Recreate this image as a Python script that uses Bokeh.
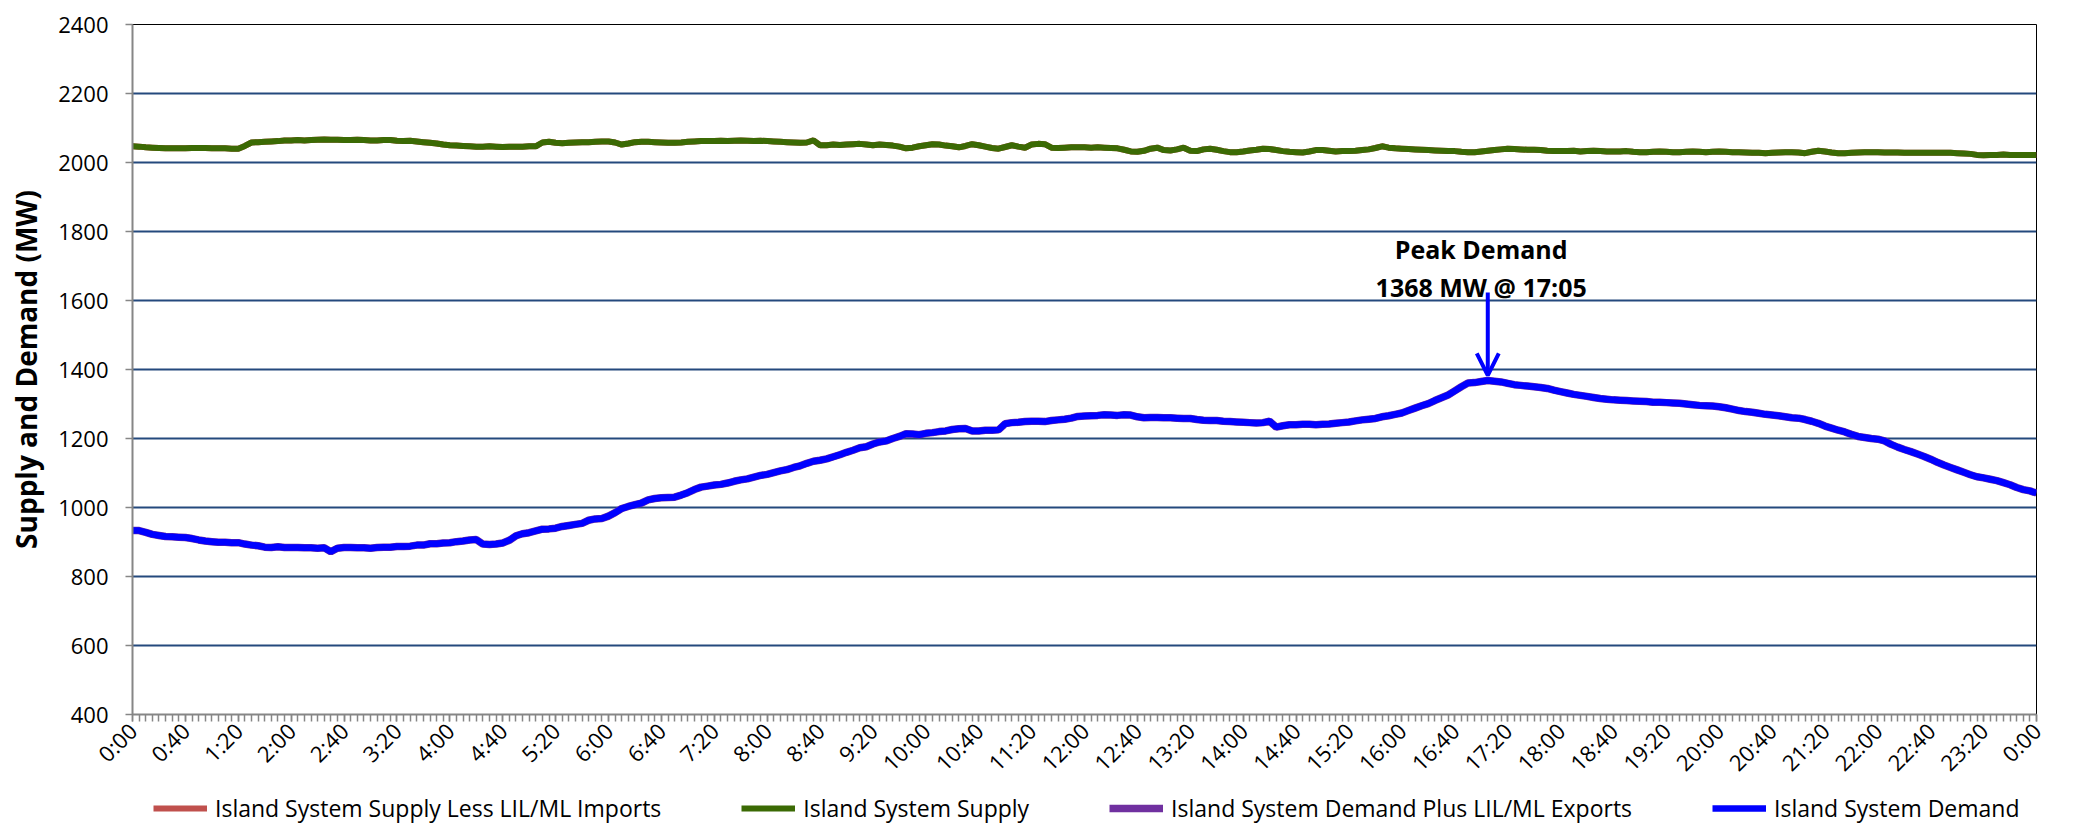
import math
from bokeh.plotting import figure
from bokeh.layouts import column
from bokeh.models import (Range1d, FixedTicker, Legend, LegendItem, Arrow, OpenHead,
                          ColumnDataSource)
from bokeh.core.properties import value
from bokeh.embed import file_html
from bokeh.resources import INLINE

# ---------------- data (5-minute intervals, 0:00 .. 24:00) ----------------
MINUTES = list(range(0, 1441, 5))

ISLAND_SUPPLY = [
    2047, 2046, 2044, 2043, 2042, 2041, 2041, 2041, 2041, 2042, 2042, 2042,
    2041, 2041, 2041, 2040, 2040, 2048, 2058, 2059, 2060, 2061, 2062, 2064,
    2064, 2065, 2064, 2065, 2066, 2067, 2066, 2066, 2065, 2065, 2066, 2065,
    2064, 2064, 2065, 2065, 2063, 2062, 2063, 2061, 2059, 2057, 2055, 2052,
    2050, 2049, 2048, 2047, 2046, 2046, 2047, 2046, 2045, 2046, 2046, 2046,
    2047, 2047, 2058, 2060, 2057, 2056, 2057, 2058, 2059, 2059, 2060, 2061,
    2061, 2058, 2052, 2055, 2059, 2060, 2060, 2059, 2058, 2057, 2057, 2058,
    2060, 2061, 2062, 2062, 2062, 2063, 2062, 2063, 2064, 2063, 2062, 2063,
    2062, 2061, 2060, 2059, 2058, 2057, 2058, 2064, 2050, 2050, 2052, 2051,
    2052, 2053, 2054, 2052, 2050, 2052, 2051, 2049, 2046, 2041, 2043, 2047,
    2050, 2053, 2052, 2049, 2047, 2044, 2048, 2053, 2050, 2046, 2042, 2040,
    2045, 2050, 2046, 2043, 2052, 2054, 2053, 2043, 2042, 2043, 2044, 2044,
    2044, 2043, 2044, 2043, 2042, 2041, 2037, 2032, 2031, 2034, 2040, 2043,
    2036, 2035, 2038, 2043, 2034, 2033, 2038, 2040, 2037, 2033, 2030, 2030,
    2032, 2035, 2037, 2040, 2039, 2036, 2033, 2031, 2030, 2029, 2032, 2036,
    2036, 2034, 2032, 2033, 2033, 2034, 2036, 2038, 2042, 2047, 2043, 2041,
    2040, 2039, 2038, 2037, 2036, 2035, 2034, 2033, 2033, 2031, 2030, 2030,
    2032, 2034, 2036, 2038, 2040, 2039, 2038, 2037, 2037, 2036, 2034, 2033,
    2033, 2033, 2034, 2032, 2033, 2034, 2033, 2032, 2032, 2032, 2033, 2031,
    2030, 2030, 2031, 2032, 2031, 2030, 2030, 2031, 2032, 2031, 2030, 2031,
    2032, 2031, 2030, 2030, 2029, 2028, 2028, 2027, 2028, 2029, 2030, 2030,
    2029, 2027, 2031, 2034, 2032, 2029, 2027, 2027, 2028, 2029, 2030, 2030,
    2030, 2029, 2029, 2029, 2028, 2028, 2028, 2028, 2028, 2028, 2028, 2028,
    2027, 2026, 2025, 2022, 2021, 2022, 2022, 2023, 2022, 2022, 2022, 2022,
    2022,
]

# No LIL/ML imports on this day: identical to the island supply
SUPPLY_LESS_IMPORTS = list(ISLAND_SUPPLY)

ISLAND_DEMAND = [
    933, 933, 928, 922, 919, 916, 915, 914, 913, 910, 906, 903,
    901, 899, 899, 898, 898, 894, 891, 889, 885, 884, 886, 884,
    884, 884, 883, 883, 882, 883, 872, 882, 884, 884, 883, 883,
    882, 884, 885, 885, 887, 887, 888, 891, 891, 895, 895, 897,
    898, 901, 903, 906, 907, 894, 893, 894, 897, 905, 918, 924,
    927, 932, 937, 938, 940, 945, 948, 951, 954, 963, 967, 968,
    975, 985, 997, 1003, 1008, 1013, 1022, 1026, 1028, 1029, 1030, 1036,
    1043, 1052, 1059, 1062, 1065, 1067, 1071, 1076, 1080, 1083, 1088, 1093,
    1096, 1101, 1106, 1110, 1116, 1121, 1128, 1134, 1137, 1141, 1147, 1153,
    1160, 1166, 1173, 1176, 1184, 1190, 1193, 1200, 1206, 1214, 1213, 1211,
    1215, 1217, 1220, 1222, 1226, 1228, 1229, 1222, 1222, 1224, 1224, 1225,
    1243, 1246, 1247, 1249, 1250, 1250, 1249, 1252, 1254, 1256, 1259, 1264,
    1265, 1266, 1267, 1269, 1268, 1267, 1269, 1268, 1263, 1260, 1261, 1261,
    1260, 1260, 1259, 1258, 1258, 1255, 1253, 1252, 1252, 1250, 1249, 1248,
    1247, 1246, 1245, 1246, 1250, 1233, 1237, 1240, 1240, 1241, 1241, 1240,
    1241, 1242, 1244, 1246, 1248, 1251, 1254, 1256, 1258, 1263, 1266, 1270,
    1274, 1281, 1288, 1295, 1301, 1310, 1318, 1326, 1338, 1350, 1361, 1362,
    1365, 1368, 1366, 1364, 1360, 1356, 1354, 1352, 1350, 1348, 1345, 1340,
    1336, 1332, 1328, 1325, 1322, 1319, 1316, 1314, 1312, 1311, 1310, 1309,
    1308, 1307, 1305, 1305, 1304, 1303, 1302, 1300, 1298, 1296, 1295, 1294,
    1292, 1289, 1285, 1281, 1278, 1276, 1273, 1270, 1268, 1266, 1263, 1260,
    1259, 1255, 1250, 1244, 1236, 1230, 1224, 1219, 1212, 1206, 1203, 1200,
    1198, 1193, 1183, 1175, 1168, 1162, 1155, 1148, 1140, 1131, 1123, 1116,
    1109, 1102, 1095, 1089, 1086, 1082, 1078, 1072, 1066, 1058, 1052, 1048,
    1042,
]

# No LIL/ML exports on this day: identical to the island demand
DEMAND_PLUS_EXPORTS = list(ISLAND_DEMAND)

SERIES_NAMES = [
    "Island System Supply Less LIL/ML Imports",
    "Island System Supply",
    "Island System Demand Plus LIL/ML Exports",
    "Island System Demand",
]
SERIES_COLORS = ["#C0504D", "#3B6A04", "#7030A0", "#0000FF"]
SERIES_WIDTHS = [6, 6, 7.5, 6.5]

PEAK_MINUTE = 17 * 60 + 5
PEAK_MW = 1368
PEAK_LABEL_1 = "Peak Demand"
PEAK_LABEL_2 = "1368 MW @ 17:05"

TICK_MINUTES = list(range(0, 1441, 40))
TICK_LABELS = ["%d:%02d" % ((m // 60) % 24, m % 60) for m in TICK_MINUTES]
MINOR_TICKS = list(range(0, 1441, 5))
Y_TICKS = list(range(400, 2401, 200))

FONT = "Open Sans"
W = 2080

# ---------------- main figure ----------------
p = figure(width=W, height=792, output_backend="svg", toolbar_location=None,
           x_range=Range1d(0, 1440), y_range=Range1d(400, 2400),
           min_border_left=132, min_border_right=44, min_border_top=24,
           min_border_bottom=78, background_fill_color="white",
           border_fill_color="white")

p.outline_line_color = "black"
p.outline_line_width = 1

p.xaxis.ticker = FixedTicker(ticks=TICK_MINUTES, minor_ticks=MINOR_TICKS)
p.xaxis.major_label_overrides = {m: lab for m, lab in zip(TICK_MINUTES, TICK_LABELS)}
p.xaxis.major_label_orientation = math.pi / 4
p.xaxis.major_label_text_font = FONT
p.xaxis.major_label_text_font_size = "22px"
p.xaxis.major_label_text_color = "black"
p.xaxis.major_label_standoff = 5
p.xaxis.axis_line_color = "#868686"
p.xaxis.axis_line_width = 2
p.xaxis.major_tick_line_color = "#868686"
p.xaxis.minor_tick_line_color = "#868686"
p.xaxis.major_tick_line_width = 1.5
p.xaxis.minor_tick_line_width = 1.5
p.xaxis.major_tick_in = 0
p.xaxis.major_tick_out = 7
p.xaxis.minor_tick_in = 0
p.xaxis.minor_tick_out = 7

p.yaxis.ticker = FixedTicker(ticks=Y_TICKS)
p.yaxis.minor_tick_line_color = None
p.yaxis.major_label_text_font = FONT
p.yaxis.major_label_text_font_size = "22px"
p.yaxis.major_label_text_color = "black"
p.yaxis.major_label_standoff = 17
p.yaxis.axis_line_color = "#868686"
p.yaxis.axis_line_width = 2
p.yaxis.major_tick_line_color = "#868686"
p.yaxis.major_tick_line_width = 1.5
p.yaxis.major_tick_in = 0
p.yaxis.major_tick_out = 7
p.yaxis.axis_label = "Supply and Demand (MW)"
p.yaxis.axis_label_text_font = FONT
p.yaxis.axis_label_text_font_size = "28px"
p.yaxis.axis_label_text_font_style = "bold"
p.yaxis.axis_label_text_color = "black"
p.yaxis.axis_label_standoff = 10

p.xgrid.grid_line_color = None
p.ygrid.ticker = FixedTicker(ticks=Y_TICKS[1:-1])
p.ygrid.grid_line_color = "#24497D"
p.ygrid.grid_line_width = 2

src = ColumnDataSource(dict(t=MINUTES, s_less=SUPPLY_LESS_IMPORTS, s=ISLAND_SUPPLY,
                            d_plus=DEMAND_PLUS_EXPORTS, d=ISLAND_DEMAND))
COLS = ["s_less", "s", "d_plus", "d"]
for col, c, w in zip(COLS, SERIES_COLORS, SERIES_WIDTHS):
    p.line("t", col, source=src, line_color=c, line_width=w)

# peak annotation
p.add_layout(Arrow(end=OpenHead(size=22, line_color="#0000FF", line_width=4),
                   x_start=PEAK_MINUTE, y_start=PEAK_MW + 255,
                   x_end=PEAK_MINUTE, y_end=PEAK_MW + 15,
                   line_color="#0000FF", line_width=4))
p.text(x=[PEAK_MINUTE - 5, PEAK_MINUTE - 5], y=[PEAK_MW + 381, PEAK_MW + 272],
       text=[PEAK_LABEL_1, PEAK_LABEL_2], text_font=value(FONT),
       text_font_style="bold", text_font_size="25px", text_color="black",
       text_align="center", text_baseline="middle")

# ---------------- legend strip ----------------
# same series drawn (out of view) in a thin strip figure that holds the legend
lg = figure(width=W, height=34, output_backend="svg", toolbar_location=None,
            x_range=Range1d(0, 1440), y_range=Range1d(-10, -9),
            x_axis_location=None, y_axis_location=None,
            min_border_left=0, min_border_right=0, min_border_top=0,
            min_border_bottom=0, background_fill_color="white",
            border_fill_color="white")
lg.outline_line_color = None
lg.grid.grid_line_color = None
items = []
for name, col, c, w in zip(SERIES_NAMES, COLS, SERIES_COLORS, SERIES_WIDTHS):
    r = lg.line("t", col, source=src, line_color=c, line_width=w)
    items.append(LegendItem(label=name, renderers=[r]))
legend = Legend(items=items, orientation="horizontal", location=(21, 2),
                label_text_font=FONT, label_text_font_size="23px",
                label_text_color="black", glyph_width=54, glyph_height=20,
                label_standoff=8, spacing=80, padding=0,
                margin=0, border_line_color=None, background_fill_alpha=0)
lg.add_layout(legend)

open("out.html", "w").write(file_html(column(p, lg), INLINE))
